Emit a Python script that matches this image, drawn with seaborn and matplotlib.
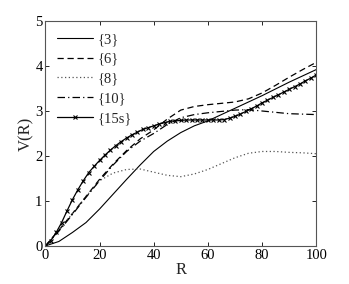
import numpy as np
import pandas as pd
import matplotlib
matplotlib.use("Agg")
import matplotlib.pyplot as plt
import seaborn as sns

sns.set_theme(style="ticks")
plt.rcParams["font.family"] = ["Liberation Serif", "DejaVu Serif"]

# Values
r_coarse = [0, 5, 10, 15, 20, 25, 30, 35, 40, 45, 50,
            55, 60, 65, 70, 75, 80, 85, 90, 95, 100]
v3 = [0, 0.1, 0.3, 0.52, 0.82, 1.15, 1.48, 1.8, 2.1, 2.33, 2.52,
      2.67, 2.78, 2.92, 3.06, 3.2, 3.34, 3.49, 3.64, 3.78, 3.92]
v6 = [0, 0.35, 0.72, 1.1, 1.48, 1.82, 2.12, 2.38, 2.58, 2.82, 3.02,
      3.1, 3.14, 3.17, 3.2, 3.27, 3.4, 3.57, 3.75, 3.92, 4.08]
v8 = [0, 0.35, 0.72, 1.1, 1.45, 1.62, 1.7, 1.71, 1.64, 1.57, 1.54,
      1.6, 1.7, 1.83, 1.96, 2.06, 2.1, 2.1, 2.08, 2.07, 2.05]
v10 = [0, 0.33, 0.7, 1.08, 1.45, 1.8, 2.1, 2.33, 2.5, 2.7, 2.85,
       2.92, 2.96, 2.99, 3.02, 3.03, 3.0, 2.97, 2.94, 2.93, 2.92]

r_fine = [0, 2, 4, 6, 8, 10, 12, 14, 16, 18, 20, 22, 24, 26, 28, 30,
          32, 34, 36, 38, 40, 42, 44, 46, 48, 50, 52, 54, 56, 58, 60,
          62, 64, 66, 68, 70, 72, 74, 76, 78, 80, 82, 84, 86, 88, 90,
          92, 94, 96, 98, 100]
v15s = [0, 0.12, 0.3, 0.52, 0.78, 1.03, 1.25, 1.45, 1.63, 1.77, 1.9,
        2.02, 2.13, 2.23, 2.32, 2.4, 2.47, 2.53, 2.59, 2.63, 2.67,
        2.71, 2.74, 2.77, 2.78, 2.79, 2.8, 2.8, 2.8, 2.8, 2.8,
        2.8, 2.8, 2.81, 2.84, 2.88, 2.93, 2.99, 3.05, 3.11, 3.18,
        3.24, 3.3, 3.36, 3.42, 3.48, 3.54, 3.6, 3.67, 3.73, 3.8]

fig = plt.figure(figsize=(3.49, 2.84), dpi=100)
ax = fig.add_axes([0.13, 0.134, 0.776, 0.792])

sns.lineplot(x=r_coarse, y=v3, ax=ax, color="black", lw=0.8,
             linestyle="-", label="{3}")
sns.lineplot(x=r_coarse, y=v6, ax=ax, color="black", lw=0.9,
             linestyle=(0, (5, 3)), label="{6}")
sns.lineplot(x=r_coarse, y=v8, ax=ax, color="#555555", lw=0.9,
             linestyle=(0, (1, 2)), label="{8}")
sns.lineplot(x=r_coarse, y=v10, ax=ax, color="black", lw=0.9,
             linestyle=(0, (6, 2.5, 1, 2.5)), label="{10}")
sns.lineplot(x=r_fine, y=v15s, ax=ax, color="black", lw=0.9,
             linestyle="-", marker="x", markersize=2.8,
             markeredgewidth=0.8, markeredgecolor="black",
             label="{15s}")

ax.set_xlim(0, 100)
ax.set_ylim(0, 5)
ax.set_xticks([0, 20, 40, 60, 80, 100])
ax.set_yticks([0, 1, 2, 3, 4, 5])
ax.tick_params(direction="in", top=True, right=True, length=3,
               width=0.6, labelsize=10.5, pad=2, colors="black")
for s in ax.spines.values():
    s.set_color("#555555")
    s.set_linewidth(0.8)
ax.set_xlabel("R", fontsize=12, labelpad=0)
ax.set_ylabel("V(R)", fontsize=12, labelpad=1)

leg = ax.legend(loc="upper left", frameon=False, fontsize=10.5,
                handlelength=2.5, handletextpad=0.3, labelspacing=0.45,
                numpoints=1, borderaxespad=0.4)

fig.savefig("out.png", dpi=100)
